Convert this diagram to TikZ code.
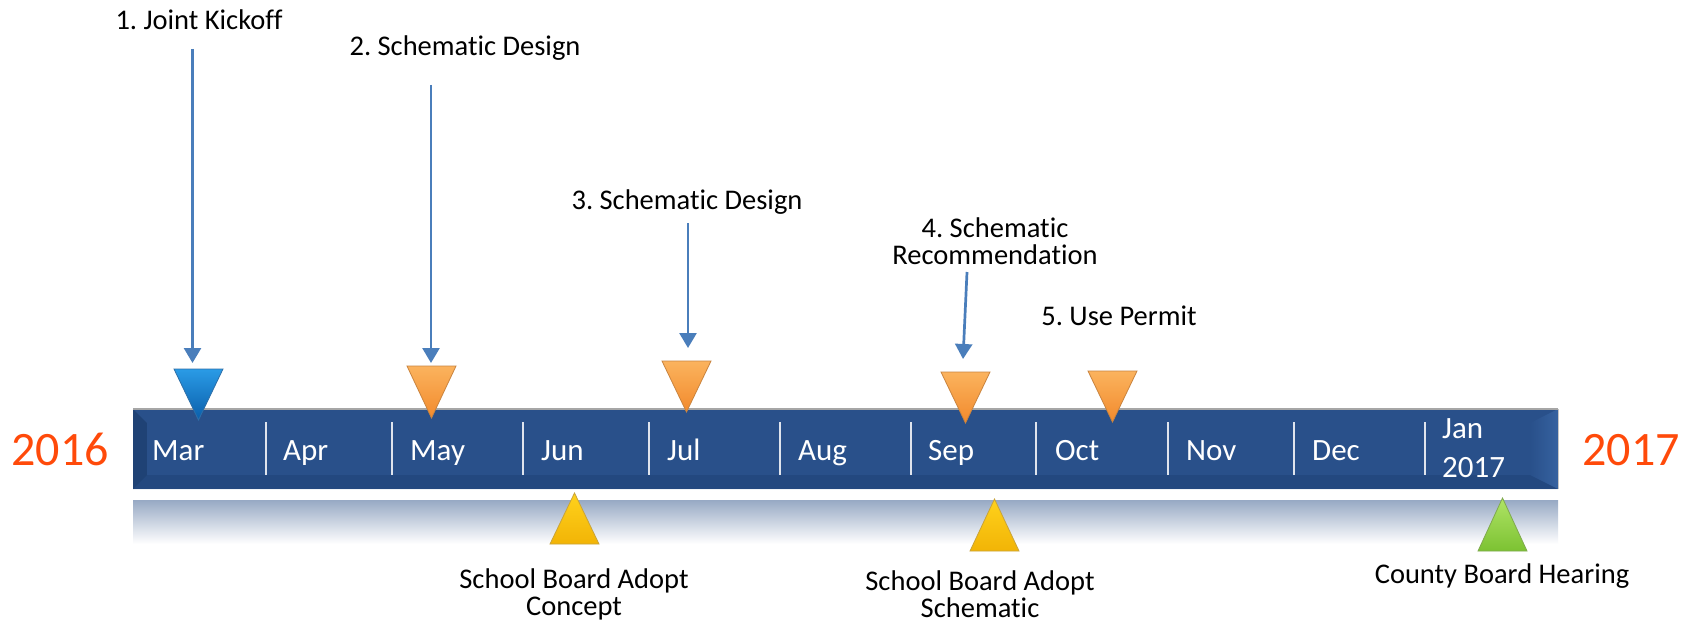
\documentclass[tikz,border=0pt]{standalone}
\usepackage{fontspec}
\setmainfont{Carlito}[Ligatures={NoCommon}]
\frenchspacing
\usetikzlibrary{arrows.meta}
\definecolor{barblue}{HTML}{29508A}
\definecolor{bardark}{HTML}{1F4275}
\definecolor{barlight}{HTML}{3662A0}
\definecolor{arrblue}{HTML}{4A7EBB}
\definecolor{yearred}{HTML}{FF4A0A}
\definecolor{reflect}{HTML}{97A9C4}
\newcommand\tlab[2]{\vtop{\halign{\hfil##\hfil\cr #1\cr #2\cr}}}
\definecolor{orange1}{HTML}{FBB35E}
\definecolor{orange2}{HTML}{F28A2C}
\definecolor{orange3}{HTML}{C9843F}
\definecolor{blue1}{HTML}{2A9BE6}
\definecolor{blue2}{HTML}{0A5EAA}
\definecolor{blue3}{HTML}{2E6FA8}
\definecolor{yellow1}{HTML}{FFD21C}
\definecolor{yellow2}{HTML}{F2B406}
\definecolor{yellow3}{HTML}{C8A33A}
\definecolor{green1}{HTML}{B0E466}
\definecolor{green2}{HTML}{7CC232}
\definecolor{green3}{HTML}{7FA94E}
\tikzset{
  lab/.style={font=\fontsize{28.5}{27.5}\selectfont, inner sep=0pt, anchor=base, text=black},
  mon/.style={font=\fontsize{31}{31}\selectfont, inner sep=0pt, anchor=base west, text=white},
  yr/.style={font=\fontsize{48}{48}\selectfont, inner sep=0pt, anchor=base, text=yearred},
  arr/.style={draw=arrblue, line width=2.7pt, -{Triangle[width=17pt,length=15pt]}},
  sep/.style={draw=white, draw opacity=0.85, line width=1.6pt},
  orange/.style={top color=orange1, bottom color=orange2, draw=orange3, line width=0.8pt},
  bluem/.style={top color=blue1, bottom color=blue2, draw=blue3, line width=0.8pt},
  yellowm/.style={top color=yellow1, bottom color=yellow2, draw=yellow3, line width=0.8pt},
  greenm/.style={top color=green1, bottom color=green2, draw=green3, line width=0.8pt},
}
\begin{document}
\begin{tikzpicture}[x=1pt,y=-1pt]
\useasboundingbox[fill=white] (0,0) rectangle (1696,623);

% reflection band
\shade[top color=reflect, bottom color=white] (133,500) rectangle (1558,544);

% bar
\fill[barblue] (133,409) rectangle (1558,489);
\fill[bardark] (133,409) -- (147,423) -- (147,475) -- (133,489) -- cycle;
\fill[bardark, opacity=0.5] (133,489) -- (147,475) -- (1544,475) -- (1558,489) -- cycle;
\shade[left color=barblue, right color=barlight] (1558,409) -- (1530,423) -- (1530,475) -- (1558,489) -- cycle;
\fill[barblue] (147,423) rectangle (1530,475);
\draw[color=gray!70, line width=1.2pt] (133,409) -- (1558,409);
\draw[color=gray!45, line width=0.8pt] (1558,409) -- (1558,489);

% separators
\foreach \x in {266,392,523,649,780,911,1036,1168,1294,1425}
  \draw[sep] (\x,422) -- (\x,475);

% months
\node[mon] (mar) at (152,460) {Mar};
\node[mon] (apr) at (283,460) {Apr};
\node[mon] (may) at (410,460) {May};
\node[mon] (jun) at (541,460) {Jun};
\node[mon] (jul) at (667,460) {Jul};
\node[mon] (aug) at (798,460) {Aug};
\node[mon] (sep) at (928,460) {Sep};
\node[mon] (oct) at (1055,460) {Oct};
\node[mon] (nov) at (1186,460) {Nov};
\node[mon] (dec) at (1312,460) {Dec};
\node[mon] (jan) at (1442,438) {Jan};
\node[mon] (jany) at (1442,477) {2017};

% years
\node[yr] (y16) at (60,465) {2016};
\node[yr] (y17) at (1631,465) {2017};

% top markers
\path[bluem]   (174,369) -- (223,369) -- (198.5,420) -- cycle;
\coordinate (m1) at (198.5,369);
\path[orange]  (407,366) -- (456,366) -- (431.5,418) -- cycle;
\coordinate (m2) at (431.5,366);
\path[orange]  (662,361) -- (711,361) -- (686.5,412) -- cycle;
\coordinate (m3) at (686.5,361);
\path[orange]  (941,372) -- (990,372) -- (965.5,423) -- cycle;
\coordinate (m4) at (965.5,372);
\path[orange]  (1088,371) -- (1137,371) -- (1112.5,422) -- cycle;
\coordinate (m5) at (1112.5,371);

% bottom markers
\path[yellowm] (550,544) -- (599,544) -- (574.5,493) -- cycle;
\path[yellowm] (970,551) -- (1019,551) -- (994.5,499) -- cycle;
\path[greenm]  (1478,551) -- (1527,551) -- (1502.5,498) -- cycle;

% top labels
\node[lab] (l1) at (199,30) {1. Joint Kickoff};
\node[lab] (l2) at (465,56) {2. Schematic Design};
\node[lab] (l3) at (687,209) {3. Schematic Design};
\node[lab] (l4) at (995,237) {\tlab{4. Schematic}{Recommendation}};
\node[lab] (l5) at (1119,325) {5. Use Permit};

% bottom labels
\node[lab] (b1) at (574,588) {\tlab{School Board Adopt}{Concept}};
\node[lab] (b2) at (980,590) {\tlab{School Board Adopt}{Schematic}};
\node[lab] (b3) at (1502,583) {County Board Hearing};

% arrows
\coordinate (a1s) at (192.5,49);  \coordinate (a1e) at (192.5,363);
\coordinate (a2s) at (431,85);    \coordinate (a2e) at (431,363);
\coordinate (a3s) at (688,223);   \coordinate (a3e) at (688,348);
\coordinate (a4s) at (967,272);   \coordinate (a4e) at (963,359);
\draw[arr] (a1s) -- (a1e);
\draw[arr] (a2s) -- (a2e);
\draw[arr] (a3s) -- (a3e);
\draw[arr] (a4s) -- (a4e);
\end{tikzpicture}
\end{document}
